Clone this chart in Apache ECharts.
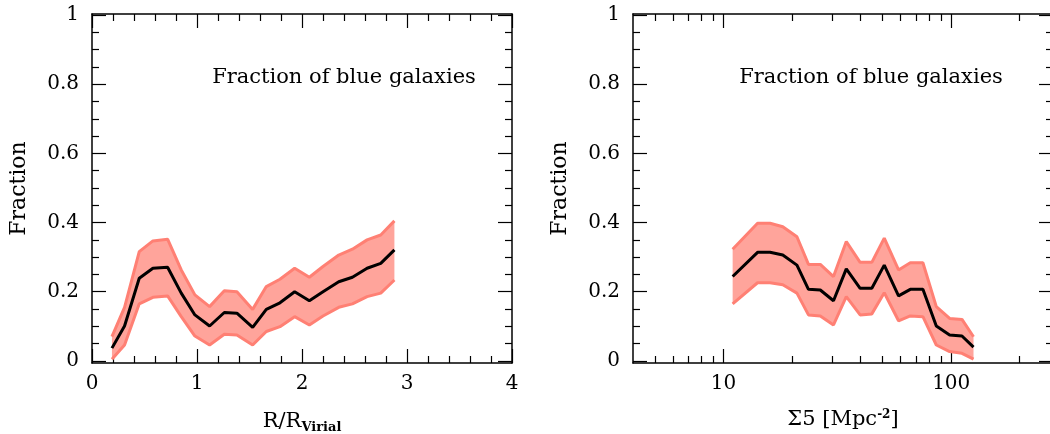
<!DOCTYPE html>
<html>
<head>
<meta charset="utf-8">
<script src="https://cdn.jsdelivr.net/npm/echarts@6/dist/echarts.min.js"></script>
<style>
html,body{margin:0;padding:0;background:#fff;}
#c{width:1050px;height:434px;}
</style>
</head>
<body>
<div id="c"></div>
<script>
// ---- Left panel: fraction vs R/R_virial ----
var rX = [0.19,0.31,0.45,0.58,0.72,0.85,0.98,1.12,1.26,1.38,1.53,1.66,1.79,1.93,2.07,2.20,2.35,2.48,2.62,2.75,2.88];
var rMid = [0.037,0.101,0.239,0.268,0.271,0.196,0.133,0.101,0.140,0.138,0.097,0.149,0.168,0.200,0.174,0.200,0.229,0.242,0.268,0.282,0.321];
var rUp  = [0.070,0.155,0.316,0.347,0.352,0.263,0.191,0.157,0.203,0.200,0.149,0.215,0.236,0.268,0.242,0.273,0.306,0.323,0.350,0.364,0.405];
var rLo  = [0.005,0.046,0.165,0.184,0.188,0.128,0.072,0.046,0.077,0.075,0.046,0.085,0.099,0.128,0.104,0.130,0.155,0.165,0.186,0.196,0.234];

// ---- Right panel: fraction vs Sigma5 ----
var sX = [10.96,14.1,16.0,18.2,21.0,23.6,26.6,30.4,34.6,39.8,44.8,50.8,58.7,66.1,75.1,86.0,98.4,111.5,125.3];
var sMid = [0.244,0.314,0.314,0.306,0.277,0.207,0.205,0.174,0.266,0.210,0.210,0.277,0.188,0.207,0.207,0.101,0.075,0.072,0.040];
var sUp  = [0.323,0.398,0.398,0.388,0.359,0.279,0.279,0.244,0.345,0.285,0.285,0.355,0.263,0.284,0.284,0.157,0.123,0.120,0.070];
var sLo  = [0.165,0.226,0.226,0.220,0.196,0.133,0.130,0.104,0.186,0.133,0.136,0.197,0.116,0.130,0.128,0.046,0.027,0.022,0.005];

// ---- Tick labels ----
var yMajor = [0,0.2,0.4,0.6,0.8,1];
var yMinor = [0.05,0.1,0.15,0.25,0.3,0.35,0.45,0.5,0.55,0.65,0.7,0.75,0.85,0.9,0.95];
var rMajor = [0,1,2,3,4];
var rMinor = [0.2,0.4,0.6,0.8,1.2,1.4,1.6,1.8,2.2,2.4,2.6,2.8,3.2,3.4,3.6,3.8];
var sMajor = [10,100];
var sMinor = [5,6,7,8,9,20,30,40,50,60,70,80,90,200];

var titleText = 'Fraction of blue galaxies';
var yName = 'Fraction';

var FONT = 'DejaVu Serif';
var BAND_FILL = '#ffa49b';
var BAND_EDGE = '#ff8074';
var TICK = {color:'#000', width:1.2};

function pairs(xs, ys){ return xs.map(function(x,i){return [x, ys[i]];}); }

function xAxes(gi, type, min, max, major, minor, name, nameRich){
  var base = {gridIndex: gi, type: type, min: min, max: max, splitLine:{show:false}};
  if (type === 'log') base.logBase = 10;
  var line = {show:true, onZero:false, lineStyle:{color:'#000', width:1.5}};
  var noLine = {show:false, onZero:false};
  var arr = [];
  arr.push(Object.assign({}, base, {position:'bottom', axisLine: line,
    axisTick:{show:true, inside:true, length:14, customValues: major, lineStyle:TICK},
    axisLabel:{show:true, customValues: major, margin:11, color:'#000', fontFamily:FONT, fontSize:20},
    name: name, nameLocation:'middle', nameGap:46,
    nameTextStyle:{color:'#000', fontFamily:FONT, fontSize:21, rich: nameRich}}));
  arr.push(Object.assign({}, base, {position:'bottom', axisLine: noLine,
    axisTick:{show:true, inside:true, length:7, customValues: minor, lineStyle:TICK},
    axisLabel:{show:false}}));
  arr.push(Object.assign({}, base, {position:'top', axisLine: line,
    axisTick:{show:true, inside:true, length:14, customValues: major, lineStyle:TICK},
    axisLabel:{show:false}}));
  arr.push(Object.assign({}, base, {position:'top', axisLine: noLine,
    axisTick:{show:true, inside:true, length:7, customValues: minor, lineStyle:TICK},
    axisLabel:{show:false}}));
  return arr;
}
function yAxes(gi){
  var base = {gridIndex: gi, type:'value', min:-0.006, max:1.003, splitLine:{show:false}};
  var line = {show:true, onZero:false, lineStyle:{color:'#000', width:1.5}};
  var noLine = {show:false, onZero:false};
  var arr = [];
  arr.push(Object.assign({}, base, {position:'left', axisLine: line,
    axisTick:{show:true, inside:true, length:14, customValues: yMajor, lineStyle:TICK},
    axisLabel:{show:true, customValues: yMajor, margin:13, color:'#000', fontFamily:FONT, fontSize:20,
      formatter: function(v){ return String(+v.toFixed(2)); }},
    name: yName, nameLocation:'middle', nameGap:62, nameRotate:90,
    nameTextStyle:{color:'#000', fontFamily:FONT, fontSize:22}}));
  arr.push(Object.assign({}, base, {position:'left', axisLine: noLine,
    axisTick:{show:true, inside:true, length:7, customValues: yMinor, lineStyle:TICK},
    axisLabel:{show:false}}));
  arr.push(Object.assign({}, base, {position:'right', axisLine: line,
    axisTick:{show:true, inside:true, length:14, customValues: yMajor, lineStyle:TICK},
    axisLabel:{show:false}}));
  arr.push(Object.assign({}, base, {position:'right', axisLine: noLine,
    axisTick:{show:true, inside:true, length:7, customValues: yMinor, lineStyle:TICK},
    axisLabel:{show:false}}));
  return arr;
}

function bandSeries(xi, yi, xs, mid, up, lo){
  return [
    {type:'custom', coordinateSystem:'cartesian2d', xAxisIndex:xi, yAxisIndex:yi,
     data:[[xs[0], lo[0]]], z:2, silent:true, animation:false,
     renderItem: function(params, api){
       var pts = [], i;
       for (i = 0; i < xs.length; i++) pts.push(api.coord([xs[i], up[i]]));
       for (i = xs.length - 1; i >= 0; i--) pts.push(api.coord([xs[i], lo[i]]));
       return {type:'polygon', shape:{points:pts}, style:{fill:BAND_FILL, stroke:null}};
     }},
    {type:'line', xAxisIndex:xi, yAxisIndex:yi, data:pairs(xs, up), symbol:'none',
     lineStyle:{color:BAND_EDGE, width:3}, z:3, silent:true, animation:false},
    {type:'line', xAxisIndex:xi, yAxisIndex:yi, data:pairs(xs, lo), symbol:'none',
     lineStyle:{color:BAND_EDGE, width:3}, z:3, silent:true, animation:false},
    {type:'line', xAxisIndex:xi, yAxisIndex:yi, data:pairs(xs, mid), symbol:'none',
     lineStyle:{color:'#000', width:3}, z:5, silent:true, animation:false}
  ];
}

var chart = echarts.init(document.getElementById('c'), null, {renderer:'canvas'});
var option = {
  backgroundColor:'#fff',
  animation:false,
  grid:[
    {left:92, top:14, width:420, height:349, containLabel:false, outerBoundsMode:'none'},
    {left:633, top:14, width:420, height:349, containLabel:false, outerBoundsMode:'none'}
  ],
  xAxis: [].concat(
    xAxes(0, 'value', 0, 4, rMajor, rMinor, '{a|R/R}{b|Virial}', {a:{fontFamily:FONT, fontSize:21, color:'#000'}, b:{fontFamily:FONT, fontSize:13, fontWeight:'bold', color:'#000', padding:[12,0,0,0]}}),
    xAxes(1, 'log', 4, 280, sMajor, sMinor, '{a|Σ5 [Mpc}{b|-2}{a|]}', {a:{fontFamily:FONT, fontSize:21, color:'#000'}, b:{fontFamily:FONT, fontSize:12, fontWeight:'bold', color:'#000', padding:[0,0,10,0]}})
  ),
  yAxis: [].concat(yAxes(0), yAxes(1)),
  graphic:[
    {type:'text', x:344, y:78, z:10, style:{text:titleText, font:'21px "DejaVu Serif"', fill:'#000', align:'center', verticalAlign:'middle'}},
    {type:'text', x:871, y:78, z:10, style:{text:titleText, font:'21px "DejaVu Serif"', fill:'#000', align:'center', verticalAlign:'middle'}}
  ],
  series: [].concat(
    bandSeries(0, 0, rX, rMid, rUp, rLo),
    bandSeries(4, 4, sX, sMid, sUp, sLo)
  )
};
chart.setOption(option);
</script>
</body>
</html>
